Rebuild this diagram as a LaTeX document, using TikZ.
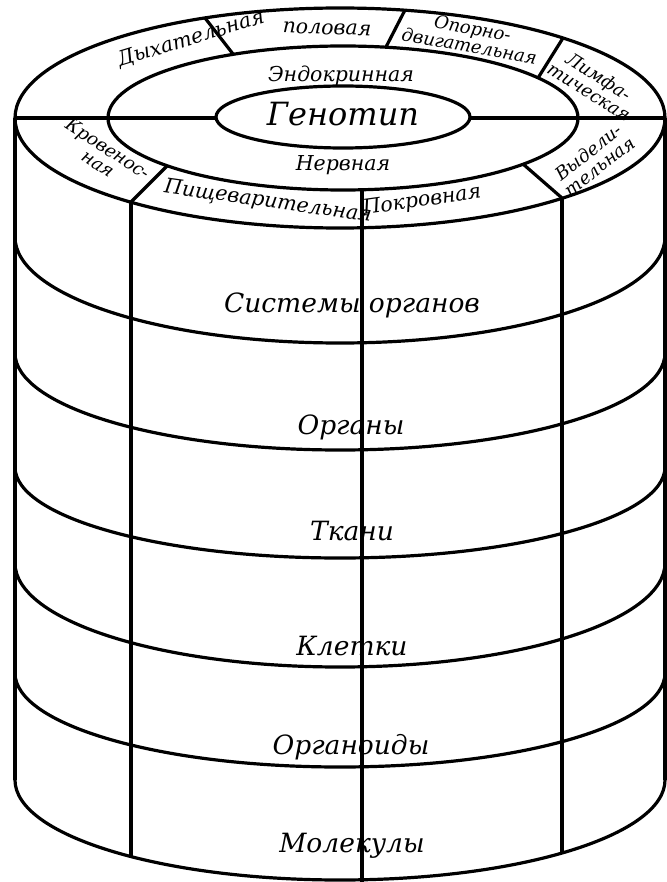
\documentclass[tikz,border=0pt]{standalone}
\usepackage{fontspec}
\setmainfont{DejaVu Serif}
\usetikzlibrary{calc}
\tikzset{
  ring/.style={line width=3.2pt},
  lbl/.style={anchor=center, inner sep=0pt, font=\itshape\fontsize{20.5}{20}\selectfont},
  duo/.style={anchor=center, inner sep=0pt, align=center, font=\itshape\fontsize{18}{18}\selectfont},
  level/.style={anchor=center, inner sep=0pt, font=\itshape\fontsize{26.5}{26}\selectfont},
}
\begin{document}
\begin{tikzpicture}[x=1pt, y=-1pt]
    \useasboundingbox (0,0) rectangle (666,882);
    \begin{scope}[ring]
        \draw (340,118) ellipse[x radius=325, y radius=110];
        \draw (343,118) ellipse[x radius=235, y radius=72];
        \draw (343,117) ellipse[x radius=127, y radius=31];
        \draw (15,118) -- (216,118);
        \draw (470,118) -- (665,118);
        \draw (233,54) -- (205,18);
        \draw (386,47) -- (405,10);
        \draw (538,78) -- (563,38);
        \draw (523,164) -- (562,198);
        \draw (167,166) -- (131,202);
        \draw (15,118) -- (15,780);
        \draw (665,118) -- (665,780);
        \draw (131,202) -- (131,857);
        \draw (362,190) -- (362,882);
        \draw (562,198) -- (562,853);
        \foreach \yl/\d in {237/106, 353/97, 467/91, 563/104, 673/94, 780/100}{
            \draw (15,\yl) arc[start angle=180, end angle=0, x radius=325, y radius=\d];
        }
    \end{scope}
    \node[anchor=center, inner sep=0pt, font=\itshape\fontsize{32}{32}\selectfont] (geno) at (343,114) {Генотип};
    \node[lbl] (endo) at (341,76) {Эндокринная};
    \node[lbl] (nerv) at (343,165) {Нервная};
    \node[lbl, rotate=17] (dykh) at (191,39) {Дыхательная};
    \node[lbl, rotate=-2] (polo) at (327,29) {половая};
    \node[duo, rotate=-10] (opor) at (471,37) {Опорно-\\двигательная};
    \node[duo, rotate=-32] (limf) at (594,84) {Лимфа-\\тическая};
    \node[duo, rotate=38] (vyde) at (594,159) {Выдели-\\тельная};
    \node[lbl, rotate=8] (pokr) at (422,201) {Покровная};
    \node[lbl, rotate=-8] (pish) at (268,202) {Пищеварительная};
    \node[duo, rotate=-33] (krov) at (103,156) {Кровенос-\\ная};
    \node[level] (sist) at (352,305) {Системы органов};
    \node[level] (orgn) at (351,427) {Органы};
    \node[level] (tkan) at (352,531) {Ткани};
    \node[level] (klet) at (352,646) {Клетки};
    \node[level] (orgd) at (351,747) {Органоиды};
    \node[level] (mole) at (352,846) {Молекулы};
\end{tikzpicture}
\end{document}
